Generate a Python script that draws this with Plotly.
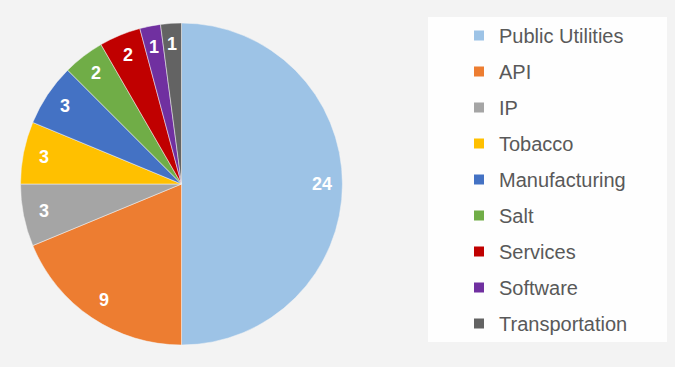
import math
import plotly.graph_objects as go

# ---- data ----
categories = ["Public Utilities", "API", "IP", "Tobacco", "Manufacturing",
              "Salt", "Services", "Software", "Transportation"]
values = [24, 9, 3, 3, 3, 2, 2, 1, 1]
colors = ["#9DC3E6", "#ED7D31", "#A5A5A5", "#FFC000", "#4472C4",
          "#70AD47", "#C00000", "#7030A0", "#636363"]

# ---- layout constants (pixels) ----
W, H = 675, 367
pie_x0, pie_x1 = 20, 343
pie_y0, pie_y1 = 23, 345
cx = (pie_x0 + pie_x1) / 2
cy = (pie_y0 + pie_y1) / 2
R = (pie_y1 - pie_y0) / 2
label_r = 0.87 * R

fig = go.Figure()
fig.add_trace(go.Pie(
    labels=categories, values=values, sort=False, direction="clockwise",
    rotation=0, textinfo="none", showlegend=False,
    marker=dict(colors=colors, line=dict(color="#F4F4F4", width=0.5)),
    domain=dict(x=[pie_x0 / W, pie_x1 / W], y=[1 - pie_y1 / H, 1 - pie_y0 / H]),
    hoverinfo="label+value",
))

# legend entries
for name, col in zip(categories, colors):
    fig.add_trace(go.Scatter(
        x=[None], y=[None], mode="markers", name=name, legendgroup=name,
        marker=dict(symbol="square", size=10, color=col), showlegend=True,
    ))

# data labels placed along each slice's mid-angle
total = sum(values)
cum = 0
annotations = []
for v in values:
    mid = (cum + v / 2) / total * 2 * math.pi
    px = cx + label_r * math.sin(mid)
    py = cy - label_r * math.cos(mid)
    annotations.append(dict(
        x=px / W, y=1 - py / H, xref="paper", yref="paper", text=str(v),
        showarrow=False, xanchor="center", yanchor="middle",
        font=dict(family="Liberation Sans, Arial", size=18, color="white", weight="bold"),
    ))
    cum += v

fig.update_layout(
    width=W, height=H,
    margin=dict(l=0, r=0, t=0, b=0),
    paper_bgcolor="#F3F3F3", plot_bgcolor="rgba(0,0,0,0)",
    xaxis=dict(visible=False), yaxis=dict(visible=False),
    annotations=annotations,
    shapes=[dict(type="rect", xref="paper", yref="paper",
                 x0=428 / W, x1=667 / W, y0=1 - 342 / H, y1=1 - 17 / H,
                 fillcolor="#FEFEFE", line=dict(width=0), layer="below")],
    legend=dict(
        x=459 / W, y=1 - 16 / H, xanchor="left", yanchor="top",
        bgcolor="rgba(0,0,0,0)", tracegroupgap=7,
        font=dict(family="Liberation Sans, Arial", size=20, color="#595959"),
        itemclick=False, itemdoubleclick=False,
    ),
    showlegend=True,
)

fig.write_html("out.html", config={"displayModeBar": False},
               post_script="document.body.style.margin='0';document.body.style.background='#F3F3F3';")
